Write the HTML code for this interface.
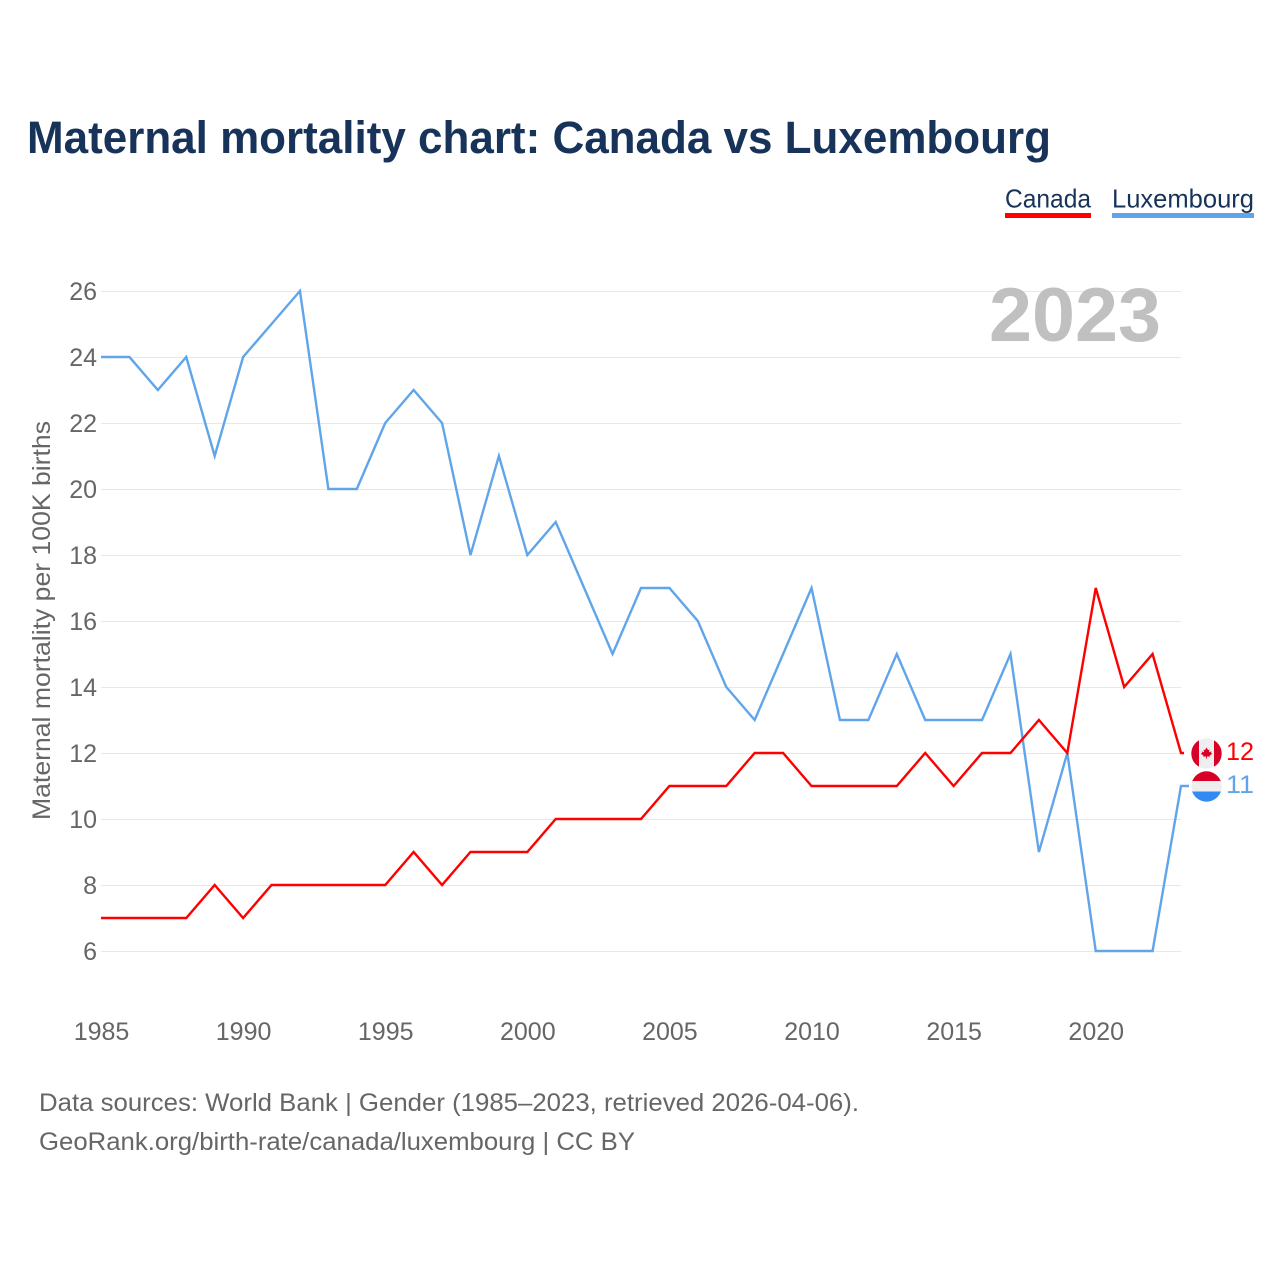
<!DOCTYPE html>
<html>
<head>
<meta charset="utf-8">
<title>Maternal mortality chart: Canada vs Luxembourg</title>
<style>
html,body{margin:0;padding:0;background:#fff;}
svg{display:block;font-family:"Liberation Sans",sans-serif;}
</style>
</head>
<body>
<svg id="chart" xmlns="http://www.w3.org/2000/svg" width="1280" height="1280" viewBox="0 0 1280 1280">
  <rect x="0" y="0" width="1280" height="1280" fill="#ffffff"/>
  <text x="27" y="153" font-size="45" font-weight="700" fill="#17335a" textLength="1024" lengthAdjust="spacingAndGlyphs">Maternal mortality chart: Canada vs Luxembourg</text>

  <g>
    <text x="1005" y="207.5" font-size="26" fill="#17335a" textLength="86" lengthAdjust="spacingAndGlyphs">Canada</text>
    <rect x="1005" y="213" width="86" height="5" fill="#ff0000"/>
  </g>
  <g>
    <text x="1112" y="207.5" font-size="26" fill="#17335a" textLength="142" lengthAdjust="spacingAndGlyphs">Luxembourg</text>
    <rect x="1112" y="213" width="142" height="5" fill="#60a5ea"/>
  </g>

  <g id="grid"></g>
  <text x="989" y="341" font-size="76" font-weight="700" fill="#c0c0c0" textLength="172" lengthAdjust="spacingAndGlyphs">2023</text>
  <g id="y-ticks"></g>
  <g id="x-ticks"></g>
  <text transform="translate(50,820) rotate(-90)" x="0" y="0" font-size="25" fill="#666666" textLength="399" lengthAdjust="spacingAndGlyphs">Maternal mortality per 100K births</text>
  <g id="series"></g>

  <defs>
    <clipPath id="clip-ca"><circle id="clip-ca-circle" cx="1206.5" cy="752" r="15.2"/></clipPath>
    <clipPath id="clip-lu"><circle id="clip-lu-circle" cx="1206.5" cy="785" r="15.2"/></clipPath>
  </defs>
  <g id="flag-canada" clip-path="url(#clip-ca)"></g>
  <g id="flag-luxembourg" clip-path="url(#clip-lu)"></g>
  <text id="value-canada" x="1226" font-size="25" fill="#ff0000" textLength="28" lengthAdjust="spacingAndGlyphs"></text>
  <text id="value-luxembourg" x="1226" font-size="25" fill="#60a5ea" textLength="28" lengthAdjust="spacingAndGlyphs"></text>

  <text x="39" y="1111" font-size="25" fill="#666666" textLength="820" lengthAdjust="spacingAndGlyphs">Data sources: World Bank | Gender (1985–2023, retrieved 2026-04-06).</text>
  <text x="39" y="1150" font-size="25" fill="#666666" textLength="596" lengthAdjust="spacingAndGlyphs">GeoRank.org/birth-rate/canada/luxembourg | CC BY</text>
</svg>
<script>
const startYear = 1985;
const endYear = 2023;
const canadaValues = [7,7,7,7,8,7,8,8,8,8,8,9,8,9,9,9,10,10,10,10,11,11,11,12,12,11,11,11,11,12,11,12,12,13,12,17,14,15,12];
const luxembourgValues = [24,24,23,24,21,24,25,26,20,20,22,23,22,18,21,18,19,17,15,17,17,16,14,13,15,17,13,13,15,13,13,13,15,9,12,6,6,6,11];
const yTickLabels = [6,8,10,12,14,16,18,20,22,24,26];
const xTickLabels = [1985,1990,1995,2000,2005,2010,2015,2020];

const NS = 'http://www.w3.org/2000/svg';
function xScale(year) { return 101 + (year - 1985) * (1080 / 38); }
function yScale(v) { return 951 - (v - 6) * 33; }
function make(tag, attrs, parent) {
  const el = document.createElementNS(NS, tag);
  for (const k in attrs) el.setAttribute(k, attrs[k]);
  parent.appendChild(el);
  return el;
}

const grid = document.getElementById('grid');
const yTicks = document.getElementById('y-ticks');
yTickLabels.forEach(function (v) {
  const line = make('line', {x1: 101, x2: 1181, y1: yScale(v) + 0.5, y2: yScale(v) + 0.5, stroke: '#e8e8e8', 'stroke-width': 1}, grid);
  
  
  const t = make('text', {x: 97, y: yScale(v) + 9, 'text-anchor': 'end', 'font-size': 25, fill: '#666666'}, yTicks);
  
  
  t.textContent = v;
});

const xTicks = document.getElementById('x-ticks');
xTickLabels.forEach(function (y) {
  const t = make('text', {x: xScale(y) + 0.5, y: 1040, 'text-anchor': 'middle', 'font-size': 25, fill: '#666666'}, xTicks);
  
  
  t.textContent = y;
});

function linePoints(values, stubEnd) {
  const pts = values.map(function (v, i) { return xScale(startYear + i).toFixed(2) + ',' + yScale(v); });
  pts.push(stubEnd + ',' + yScale(values[values.length - 1]));
  return pts.join(' ');
}
const series = document.getElementById('series');
const luxLine = make('polyline', {points: linePoints(luxembourgValues, 1189), fill: 'none', stroke: '#60a5ea', 'stroke-width': 2.4, 'stroke-linejoin': 'miter'}, series);


const caLine = make('polyline', {points: linePoints(canadaValues, 1184), fill: 'none', stroke: '#ff0000', 'stroke-width': 2.4, 'stroke-linejoin': 'miter'}, series);



const caLast = canadaValues[canadaValues.length - 1];
const luLast = luxembourgValues[luxembourgValues.length - 1];
const caY = yScale(caLast);
const luY = yScale(luLast);
const cx = 1206.5;

document.getElementById('clip-ca-circle').setAttribute('cy', caY + 0.5);
document.getElementById('clip-lu-circle').setAttribute('cy', luY + 0.5);

const fc = document.getElementById('flag-canada');
make('rect', {x: cx - 16, y: caY - 16, width: 32, height: 33, fill: '#eeeeee'}, fc);
make('rect', {x: cx - 16, y: caY - 16, width: 8.5, height: 33, fill: '#d80027'}, fc);
make('rect', {x: cx + 7.5, y: caY - 16, width: 8.5, height: 33, fill: '#d80027'}, fc);
make('path', {d: 'M' + cx + ' ' + (caY - 5.5) + 'l1.6 2.6 1.4-.6-.5 2.8 2.4-.9-.4 1.6 1.5.6-3 2.2.4 1-2.9-.4v2.2h-.9v-2.2l-2.9.4.4-1-3-2.2 1.5-.6-.4-1.6 2.4.9-.5-2.8 1.4.6z', fill: '#d80027'}, fc);

const fl = document.getElementById('flag-luxembourg');
make('rect', {x: cx - 16, y: luY - 16, width: 32, height: 12, fill: '#d80027'}, fl);
make('rect', {x: cx - 16, y: luY - 5, width: 32, height: 11, fill: '#eeeeee'}, fl);
make('rect', {x: cx - 16, y: luY + 5.5, width: 32, height: 12, fill: '#338af3'}, fl);

const vc = document.getElementById('value-canada');
vc.setAttribute('y', caY + 7);
vc.textContent = caLast;
const vl = document.getElementById('value-luxembourg');
vl.setAttribute('y', luY + 7);
vl.textContent = luLast;
</script>
</body>
</html>
